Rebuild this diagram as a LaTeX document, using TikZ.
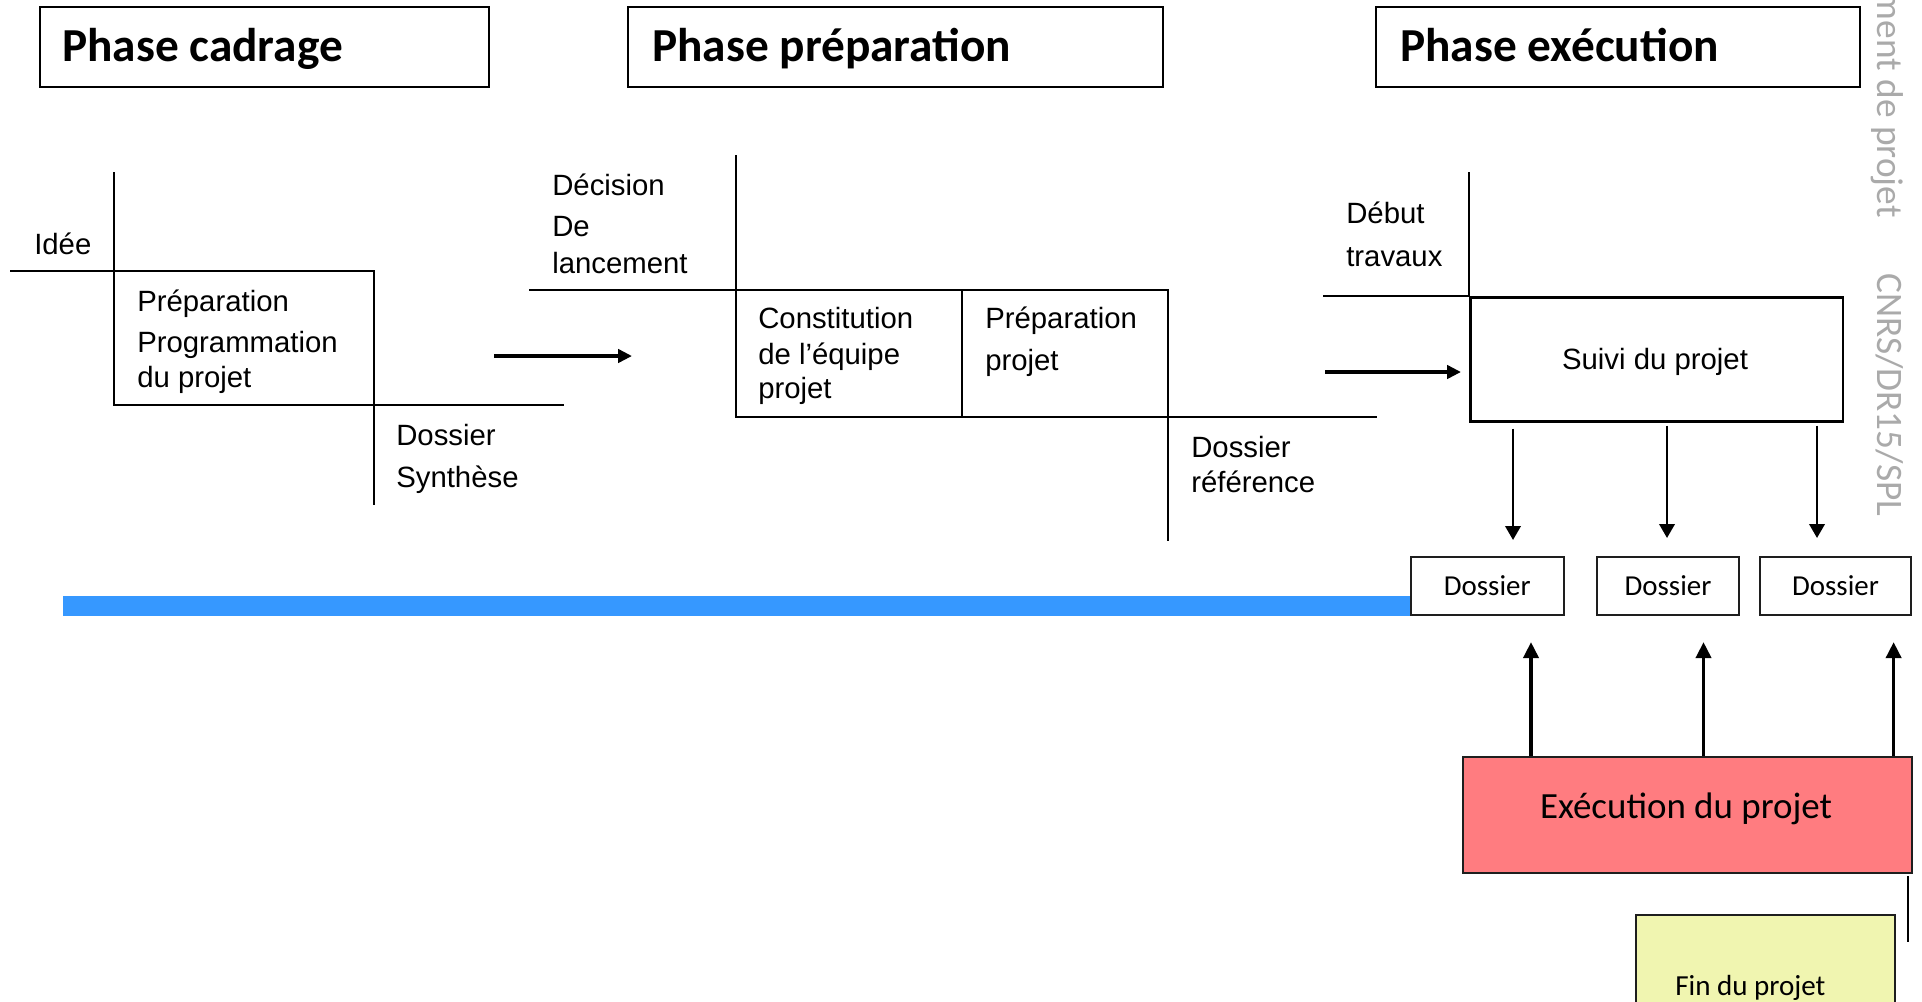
\documentclass[tikz,border=0pt]{standalone}
\usepackage{fontspec}
\usetikzlibrary{arrows.meta}
\newfontfamily\arialf{Liberation Sans}
\newfontfamily\calf{Carlito}
\definecolor{barblue}{RGB}{54,152,255}
\definecolor{execred}{RGB}{255,124,128}
\definecolor{finyellow}{RGB}{240,245,176}
\definecolor{wmgray}{RGB}{170,170,170}
\definecolor{boxline}{RGB}{30,30,30}

\begin{document}
\begin{tikzpicture}[x=0.75pt, y=-0.75pt,
  struct/.style={line width=1.7pt, line cap=rect},
  lbl/.style={anchor=base west, inner sep=0pt, font=\arialf\fontsize{22}{26}\selectfont},
  hbox/.style={draw, line width=1.5pt, anchor=north west, inner sep=0pt, minimum height=80*0.75pt},
  htxt/.style={anchor=base west, inner sep=0pt, font=\calf\bfseries\fontsize{35.5}{42}\selectfont},
  dbox/.style={draw=boxline, line width=1.5pt, anchor=north west, inner sep=0pt,
    minimum height=57.5*0.75pt, text height=14pt, text depth=0pt,
    font=\calf\fontsize{21.7}{26}\selectfont},
  harr/.style={line width=3pt, -{Triangle[length=10.5pt,width=10pt]}},
  darr/.style={line width=2pt, -{Triangle[length=10.5pt,width=11.5pt]}},
  uarr/.style={line width=2.4pt, -{Triangle[length=12pt,width=11.5pt]}},
  wm/.style={rotate=-90, inner sep=0pt, text=wmgray, font=\calf\fontsize{28}{32}\selectfont}
]
\useasboundingbox (0,0) rectangle (1922,1001);
\clip (0,0) rectangle (1922,1001);
\fill[white] (0,0) rectangle (1922,1001);

% phase headers
\node[hbox, minimum width=449*0.75pt] (h1) at (39,6) {};
\node[htxt] (h1t) at (62,61) {Phase cadrage};
\node[hbox, minimum width=535*0.75pt] (h2) at (627,6) {};
\node[htxt] (h2t) at (652,61) {Phase préparation};
\node[hbox, minimum width=484*0.75pt] (h3) at (1375,6) {};
\node[htxt] (h3t) at (1400,61) {Phase exécution};

% cadrage step
\draw[struct] (11,271) -- (374,271) -- (374,504);
\draw[struct] (114,173) -- (114,405) -- (563,405);
\node[lbl] (idee) at (34,254) {Idée};
\node[lbl] (pp1) at (137,311) {Préparation};
\node[lbl] (pp2) at (137,352) {Programmation};
\node[lbl] (pp3) at (137,387) {du projet};
\node[lbl] (ds1) at (396,445) {Dossier};
\node[lbl] (ds2) at (396,487) {Synthèse};

\coordinate (a1s) at (494,356);
\coordinate (a1e) at (632,356);
\draw[harr] (a1s) -- (a1e);

% preparation step
\draw[struct] (530,290) -- (1168,290) -- (1168,540);
\draw[struct] (736,156) -- (736,417) -- (1376,417);
\draw[struct] (962,290) -- (962,417);
\node[lbl] (dec1) at (552,195) {Décision};
\node[lbl] (dec2) at (552,236) {De};
\node[lbl] (dec3) at (552,273) {lancement};
\node[lbl] (ce1) at (758,328) {Constitution};
\node[lbl] (ce2) at (758,364) {de l’équipe};
\node[lbl] (ce3) at (758,398) {projet};
\node[lbl] (pr1) at (985,328) {Préparation};
\node[lbl] (pr2) at (985,370) {projet};
\node[lbl] (dr1) at (1191,457) {Dossier};
\node[lbl] (dr2) at (1191,492) {référence};

% execution step
\node[draw, line width=2pt, anchor=north west, inner sep=0pt,
  minimum width=372.5*0.75pt, minimum height=124*0.75pt] (suivi) at (1469,296) {};
\node[lbl, anchor=base] (suivit) at (1655,369) {Suivi du projet};
\draw[struct] (1324,296) -- (suivi.north west);
\draw[struct] (1469,173) -- (suivi.north west);
\node[lbl] (db1) at (1346,223) {Début};
\node[lbl] (db2) at (1346,266) {travaux};

\coordinate (a2s) at (1325,372);
\draw[harr, shorten >=6pt] (a2s) -- (a2s -| suivi.west);

% dossiers
\node[dbox, minimum width=152.5*0.75pt] (d1) at (1410,556) {Dossier};
\node[dbox, minimum width=142*0.75pt] (d2) at (1596,556) {Dossier};
\node[dbox, minimum width=151*0.75pt] (d3) at (1759,556) {Dossier};

\fill[barblue] (63,596) rectangle (1410,616);

\coordinate (x1) at (1513,0);
\coordinate (x2) at (1667,0);
\coordinate (x3) at (1817,0);
\draw[darr, shorten <=4.5pt, shorten >=12pt] (suivi.south -| x1) -- (d1.north -| x1);
\draw[darr, shorten <=2.3pt, shorten >=13.5pt] (suivi.south -| x2) -- (d2.north -| x2);
\draw[darr, shorten <=2.3pt, shorten >=13.5pt] (suivi.south -| x3) -- (d3.north -| x3);

% execution block
\node[draw=boxline, fill=execred, line width=1.5pt, anchor=north west, inner sep=0pt,
  minimum width=449*0.75pt, minimum height=116.6*0.75pt] (exec) at (1461.6,755.7) {};
\node[anchor=base, inner sep=0pt, font=\calf\fontsize{27.7}{32}\selectfont] (exect) at (1686,818) {Exécution du projet};

\coordinate (u1) at (1531,0);
\coordinate (u2) at (1703.5,0);
\coordinate (u3) at (1893.6,0);
\draw[uarr, shorten >=20pt] (exec.north -| u1) -- (d1.south -| u1);
\draw[uarr, shorten >=20pt] (exec.north -| u2) -- (d2.south -| u2);
\draw[uarr, shorten >=20pt] (exec.north -| u3) -- (d3.south -| u3);

\draw[line width=1.5pt] (1908,876) -- (1908,942);

% closing block
\node[draw=boxline, fill=finyellow, line width=1.5pt, anchor=north west, inner sep=0pt,
  minimum width=259*0.75pt, minimum height=150*0.75pt] (fin) at (1635,914) {};
\node[anchor=base west, inner sep=0pt, font=\calf\fontsize{21.8}{26}\selectfont] (fint) at (1675,995) {Fin du projet};

% footer mark
\node[wm, anchor=base east] (wm1) at (1877,218) {ment de projet};
\node[wm, anchor=base west] (wm2) at (1877,273) {CNRS/DR15/SPL};
\end{tikzpicture}
\end{document}
